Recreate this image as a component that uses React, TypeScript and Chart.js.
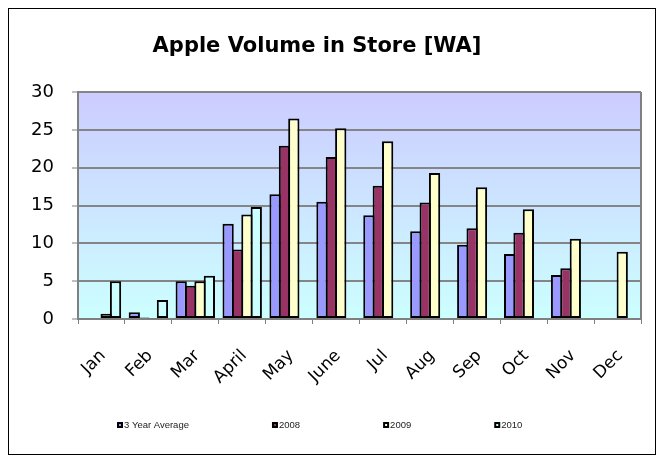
import { useEffect, useRef, useState } from "react";
import { Chart, registerables } from "chart.js";

Chart.register(...registerables);

const chartTitle = "Apple Volume in Store [WA]";
const categories = ["Jan", "Feb", "Mar", "April", "May", "June", "Jul", "Aug", "Sep", "Oct", "Nov", "Dec"];
const seriesNames = ["3 Year Average", "2008", "2009", "2010"];
const seriesColors = ["#9999FF", "#993366", "#FFFFCC", "#CCFFFF"];
const avgValues = [0, 0.9, 5.0, 12.6, 16.5, 15.5, 13.7, 11.6, 9.8, 8.6, 5.8, null];
const values2008 = [0, 0.2, 4.4, 9.2, 22.9, 21.4, 17.6, 15.4, 12.0, 11.4, 6.7, null];
const values2009 = [0.7, 0.1, 5.0, 13.8, 26.5, 25.2, 23.5, 19.3, 17.4, 14.5, 10.6, 8.9];
const values2010 = [5.0, 2.5, 5.7, 14.8, null, null, null, null, null, null, null, null];
const yTicks = [0, 5, 10, 15, 20, 25, 30];

const bgPlugin = {
  id: "plotBg",
  beforeDraw(chart: any) {
    const { ctx, chartArea } = chart;
    if (!chartArea) return;
    const g = ctx.createLinearGradient(0, chartArea.top, 0, chartArea.bottom);
    g.addColorStop(0, "#CCCCFF");
    g.addColorStop(1, "#CCFFFF");
    ctx.save();
    ctx.fillStyle = g;
    ctx.fillRect(chartArea.left, chartArea.top, chartArea.right - chartArea.left, chartArea.bottom - chartArea.top);
    ctx.restore();
  },
  afterDatasetsDraw(chart: any) {
    const { ctx, chartArea } = chart;
    ctx.save();
    ctx.strokeStyle = "#808080";
    ctx.lineWidth = 2;
    ctx.beginPath();
    ctx.moveTo(chartArea.right, chartArea.top);
    ctx.lineTo(chartArea.right, chartArea.bottom);
    ctx.stroke();
    ctx.restore();
  },
};

const textPlugin = {
  id: "titleLegend",
  afterDraw(chart: any) {
    const { ctx } = chart;
    ctx.save();
    ctx.fillStyle = "#000";
    ctx.font = 'bold 21px "DejaVu Sans"';
    ctx.textAlign = "center";
    ctx.textBaseline = "alphabetic";
    ctx.fillText(chartTitle, 308, 43);

    ctx.font = '9.5px "Liberation Sans"';
    ctx.textAlign = "left";
    ctx.textBaseline = "middle";
    let x = 108;
    const y = 416;
    seriesNames.forEach((name, i) => {
      ctx.fillStyle = "#000";
      ctx.fillRect(x, y - 3, 6, 6);
      ctx.fillStyle = seriesColors[i];
      ctx.fillRect(x + 2, y - 1, 2, 2);
      ctx.fillStyle = "#222";
      ctx.fillText(name, x + 7, y);
      x += 7 + ctx.measureText(name).width + 83;
    });
    ctx.restore();
  },
};

type LabelPos = { text: string; x: number; y: number };

export default function App() {
  const ref = useRef<HTMLCanvasElement>(null);
  const [labels, setLabels] = useState<LabelPos[]>([]);
  useEffect(() => {
    if (!ref.current) return;
    const data = [avgValues, values2008, values2009, values2010];
    const chart = new Chart(ref.current, {
      type: "bar",
      data: {
        labels: categories,
        datasets: seriesNames.map((name, i) => ({
          label: name,
          data: data[i],
          backgroundColor: seriesColors[i],
          borderColor: "#000",
          borderWidth: 2,
          borderSkipped: false,
          categoryPercentage: 0.8,
          barPercentage: 1.2,
        })),
      },
      options: {
        responsive: false,
        animation: false,
        layout: { padding: { top: 83, right: 14, bottom: 0, left: 0 } },
        plugins: { legend: { display: false }, title: { display: false }, tooltip: { enabled: false } },
        scales: {
          x: {
            afterFit: (s: any) => { s.height = 135; },
            grid: { offset: true, drawOnChartArea: false, tickLength: 5, color: "#808080", lineWidth: 1 },
            border: { color: "#808080", width: 2 },
            ticks: { display: false },
          },
          y: {
            min: 0,
            max: 30,
            afterFit: (s: any) => { s.width = 69; },
            afterBuildTicks: (s: any) => { s.ticks = yTicks.map((v) => ({ value: v })); },
            grid: { color: "#858585", lineWidth: 2, tickLength: 6, tickColor: "#808080", tickWidth: 1 },
            border: { color: "#808080", width: 2 },
            ticks: { padding: 18, color: "#000", font: { family: "DejaVu Sans", size: 18 } },
          },
        },
      },
      plugins: [bgPlugin, textPlugin],
    });
    const xs: any = chart.scales.x;
    setLabels(categories.map((text, i) => ({ text, x: xs.getPixelForTick(i), y: chart.chartArea.bottom })));
    return () => chart.destroy();
  }, []);
  return (
    <div style={{ position: "relative", width: 646, height: 445, border: "1px solid #000" }}>
      <canvas ref={ref} width={646} height={445} style={{ display: "block" }} />
      {labels.map((l) => (
        <span
          key={l.text}
          style={{
            position: "absolute",
            left: l.x + 1,
            top: l.y + 33,
            transform: "translate(-100%, -50%) rotate(-45deg)",
            transformOrigin: "100% 50%",
            whiteSpace: "nowrap",
            fontFamily: '"DejaVu Sans"',
            fontSize: 17,
            lineHeight: "20px",
            color: "#000",
          }}
        >
          {l.text}
        </span>
      ))}
    </div>
  );
}
